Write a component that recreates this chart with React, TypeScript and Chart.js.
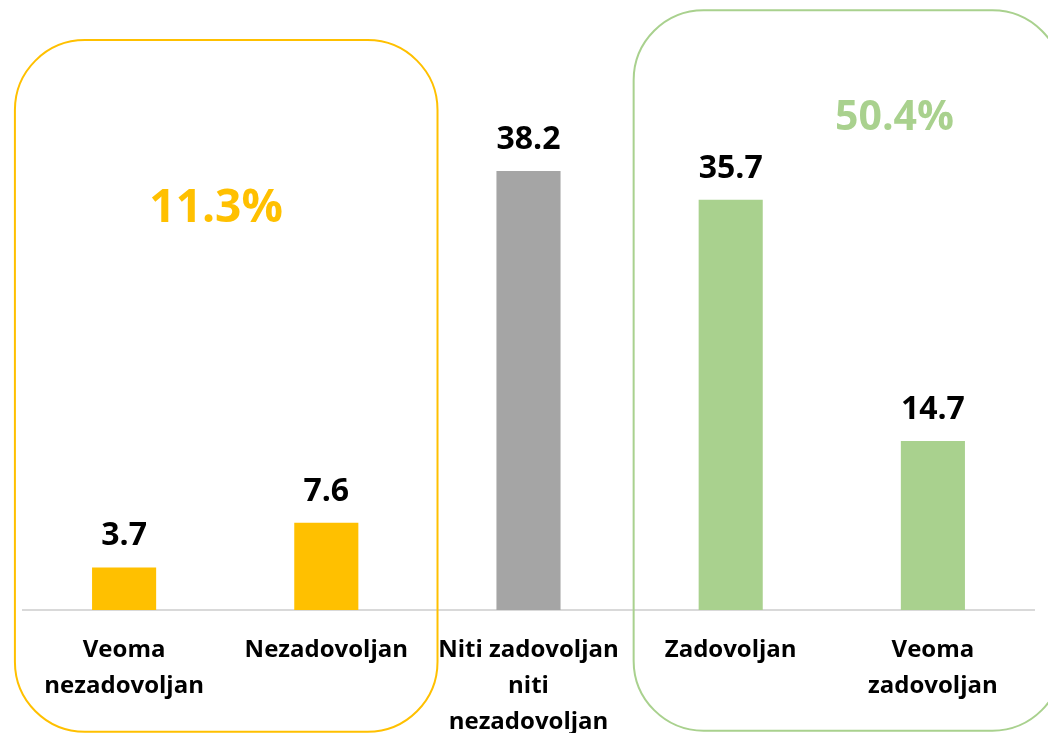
import React, { useEffect, useRef } from "react";
import { Chart, registerables } from "chart.js";

Chart.register(...registerables);

const categories: string[][] = [
  ["Veoma", "nezadovoljan"],
  ["Nezadovoljan"],
  ["Niti zadovoljan", "niti", "nezadovoljan"],
  ["Zadovoljan"],
  ["Veoma", "zadovoljan"],
];
const values = [3.7, 7.6, 38.2, 35.7, 14.7];
const barColors = ["#FFC000", "#FFC000", "#A5A5A5", "#A9D18E", "#A9D18E"];
const groupLabels = ["11.3%", "50.4%"];
const groupColors = ["#FFC000", "#A9D18E"];

const FONT = "'Open Sans', 'DejaVu Sans', sans-serif";

function strokeRoundRect(ctx: CanvasRenderingContext2D, l: number, t: number, r: number, b: number, rad: number, color: string) {
  ctx.beginPath();
  ctx.moveTo(l + rad, t);
  ctx.lineTo(r - rad, t);
  ctx.arcTo(r, t, r, t + rad, rad);
  ctx.lineTo(r, b - rad);
  ctx.arcTo(r, b, r - rad, b, rad);
  ctx.lineTo(l + rad, b);
  ctx.arcTo(l, b, l, b - rad, rad);
  ctx.lineTo(l, t + rad);
  ctx.arcTo(l, t, l + rad, t, rad);
  ctx.closePath();
  ctx.strokeStyle = color;
  ctx.lineWidth = 2;
  ctx.stroke();
}

const overlayPlugin = {
  id: "overlay",
  afterDatasetsDraw(chart: any) {
    const ctx: CanvasRenderingContext2D = chart.ctx;
    const xs = chart.scales.x;
    const ys = chart.scales.y;
    const meta = chart.getDatasetMeta(0);
    ctx.save();
    // value labels
    ctx.font = `bold 32px ${FONT}`;
    ctx.fillStyle = "#000000";
    ctx.textAlign = "center";
    ctx.textBaseline = "alphabetic";
    meta.data.forEach((bar: any, i: number) => {
      ctx.fillText(values[i].toFixed(1), bar.x, bar.y - 22);
    });
    const px = (v: number) => xs.getPixelForValue(v);
    const step = px(1) - px(0);
    // group boxes
    strokeRoundRect(ctx, px(0) - 0.54 * step, ys.getPixelForValue(49.6), px(1) + 0.55 * step, ys.getPixelForValue(-10.6), 70, groupColors[0]);
    strokeRoundRect(ctx, px(3) - 0.48 * step, ys.getPixelForValue(52.2), px(4) + 0.64 * step, ys.getPixelForValue(-10.5), 70, groupColors[1]);
    // group percentages
    ctx.font = `bold 46px ${FONT}`;
    ctx.fillStyle = groupColors[0];
    ctx.fillText(groupLabels[0], px(0) + 0.455 * step, ys.getPixelForValue(33.75));
    ctx.font = `bold 41px ${FONT}`;
    ctx.fillStyle = groupColors[1];
    ctx.fillText(groupLabels[1], px(3) + 0.81 * step, ys.getPixelForValue(41.8));
    ctx.restore();
  },
};

export default function App() {
  const ref = useRef<HTMLCanvasElement | null>(null);
  useEffect(() => {
    if (!ref.current) return;
    const chart = new Chart(ref.current, {
      type: "bar",
      data: {
        labels: categories,
        datasets: [
          {
            data: values,
            backgroundColor: barColors,
            borderWidth: 0,
            barPercentage: 0.317,
            categoryPercentage: 1,
          },
        ],
      },
      options: {
        animation: false,
        responsive: false,
        layout: { padding: { left: 23, right: 14, top: 35.5, bottom: 0 } },
        plugins: { legend: { display: false }, tooltip: { enabled: false } },
        scales: {
          x: {
            grid: { display: false, drawTicks: false },
            border: { display: true, color: "#D9D9D9", width: 2 },
            ticks: {
              color: "#000000",
              font: { family: FONT, size: 24, weight: "bold", lineHeight: 1.5 },
              padding: 22,
              maxRotation: 0,
              autoSkip: false,
            },
          },
          y: { display: false, min: 0, max: 50 },
        },
      },
      plugins: [overlayPlugin],
    });
    return () => chart.destroy();
  }, []);
  return (
    <div style={{ position: "fixed", left: 0, top: 0, width: 1048, height: 733, overflow: "hidden", background: "#fff" }}>
      <canvas ref={ref} width={1048} height={762} style={{ display: "block", width: 1048, height: 762 }} />
    </div>
  );
}
